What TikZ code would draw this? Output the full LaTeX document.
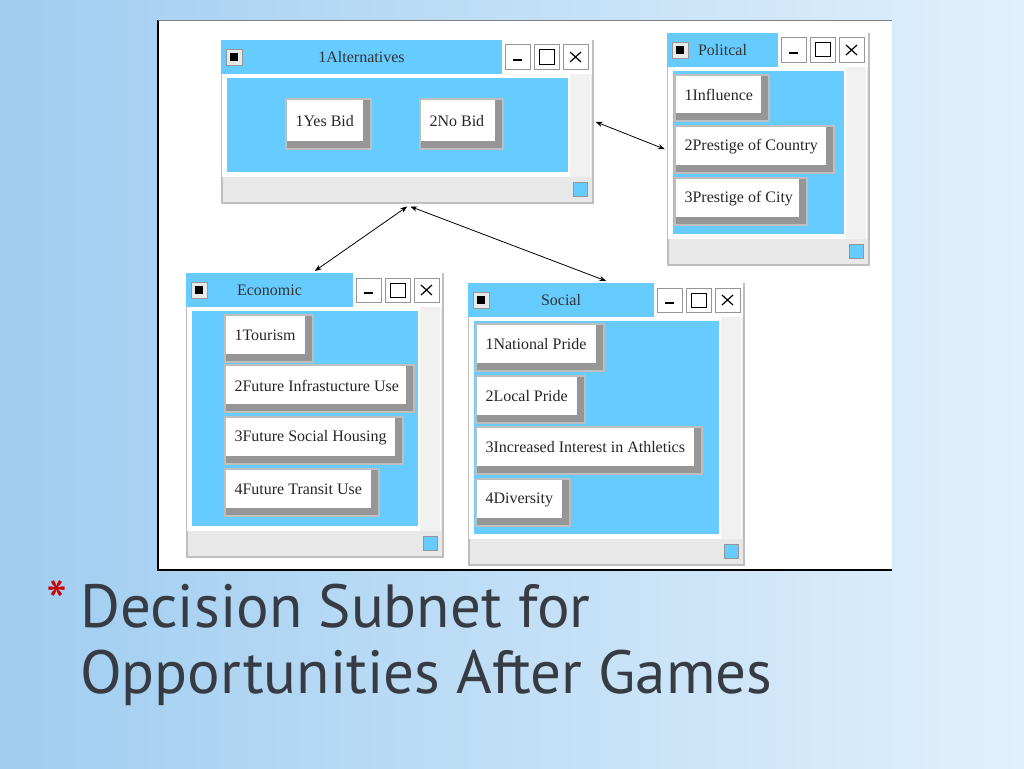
\documentclass[tikz,border=0pt]{standalone}
\usepackage{fontspec}
\setmainfont{Liberation Serif}
\newfontfamily\titlefont{PT Sans}
\usetikzlibrary{arrows.meta, positioning, calc}
\definecolor{winblue}{RGB}{102,204,255}
\definecolor{framegray}{RGB}{190,190,190}
\definecolor{stripgray}{RGB}{232,232,232}
\definecolor{shadegray}{RGB}{150,150,150}
\definecolor{bgtop}{RGB}{225,240,252}
\definecolor{bgside}{RGB}{160,205,240}
\definecolor{titlegray}{RGB}{55,60,68}
\tikzset{
	winframe/.style={draw=framegray,line width=1.5pt,fill=stripgray,rectangle,anchor=north west,inner sep=0pt},
	ctrlbtn/.style={draw=shadegray,fill=white,line width=1pt},
	itemtext/.style={anchor=west,font=\fontsize{16}{18}\selectfont,text=black!85},
	link/.style={{Stealth[length=7pt]}-{Stealth[length=7pt]},line width=0.8pt}
}
% one window: name, left, top, right, bottom, end of title bar, title
\newcommand{\appwin}[7]{
	\node[winframe,minimum width={#4-#2},minimum height={#5-#3}] (#1) at (#2,#3) {};
	\fill[winblue] (#2,#3) rectangle (#6,#3+34);
	\fill[white] (#6,#3) rectangle (#4,#3+34);
	\draw[fill=stripgray,draw=shadegray] (#2+5,#3+9) rectangle (#2+21,#3+25);
	\fill[black] (#2+9,#3+13) rectangle (#2+17,#3+21);
	\node[font=\fontsize{16}{18}\selectfont,text=black!80] at ({(#2+#6)/2},#3+17) {#7};
	\draw[ctrlbtn] (#6+3,#3+5) rectangle (#6+28,#3+29);
	\draw[line width=1.5pt] (#6+11,#3+20) -- (#6+20,#3+20);
	\draw[ctrlbtn] (#6+32,#3+5) rectangle (#6+57,#3+29);
	\draw[line width=1pt] (#6+37,#3+10) rectangle (#6+52,#3+24);
	\draw[ctrlbtn] (#6+61,#3+5) rectangle (#6+86,#3+29);
	\draw[line width=1.2pt] (#6+68,#3+12) -- (#6+79,#3+22) (#6+68,#3+22) -- (#6+79,#3+12);
	\fill[white] (#2+1,#3+34) rectangle (#4-1,#5-25);
	\fill[stripgray!60] (#4-22,#3+34) rectangle (#4-2,#5-25);
	\fill[winblue] (#2+6,#3+38) rectangle (#4-24,#5-30);
	\draw[fill=winblue,draw=shadegray] (#4-19,#5-20) rectangle (#4-5,#5-6);
}
% one item button: name, left, top, right, bottom, text
\newcommand{\itembox}[6]{
	\fill[framegray] (#2-2,#3-2) rectangle (#4+2,#5+2);
	\fill[shadegray] (#2,#3) rectangle (#4,#5);
	\fill[white] (#2,#3) rectangle (#4-7,#5-7);
	\node[itemtext] (#1) at (#2+5,{(#3+#5)/2-3}) {#6};
}
\begin{document}
\begin{tikzpicture}[x=1pt,y=-1pt]
	% slide background
	\shade[left color=bgside,right color=bgtop] (0,0) rectangle (1024,768);
	\useasboundingbox (0,0) rectangle (1024,768);
	% diagram area
	\fill[white] (158,20) rectangle (892,570);
	\draw[line width=1.5pt] (892,570) -- (158,570) -- (158,20);
	\draw[black!50,line width=0.5pt] (158,20) -- (892,20);
	% windows
	\appwin{alt}{221}{40}{592}{202}{502}{1Alternatives}
	\itembox{yes}{287}{100}{370}{148}{1Yes Bid}
	\itembox{no}{421}{100}{502}{148}{2No Bid}
	\appwin{pol}{667}{33}{868}{264}{778}{Politcal}
	\itembox{p1}{676}{76}{768}{120}{1Influence}
	\itembox{p2}{676}{127}{833}{172}{2Prestige of Country}
	\itembox{p3}{676}{179}{806}{224}{3Prestige of City}
	\appwin{eco}{186}{273}{442}{556}{353}{Economic}
	\itembox{e1}{226}{316}{312}{361}{1Tourism}
	\itembox{e2}{226}{366}{413}{411}{2Future Infrastucture Use}
	\itembox{e3}{226}{418}{402}{463}{3Future Social Housing}
	\itembox{e4}{226}{470}{378}{515}{4Future Transit Use}
	\appwin{soc}{468}{283}{743}{564}{654}{Social}
	\itembox{s1}{477}{325}{603}{370}{1National Pride}
	\itembox{s2}{477}{377}{584}{422}{2Local Pride}
	\itembox{s3}{477}{428}{701}{473}{3Increased Interest in Athletics}
	\itembox{s4}{477}{480}{569}{525}{4Diversity}
	% links
	\draw[link] ([xshift=2pt]alt.east) -- ([xshift=-2pt]pol.west);
	\draw[link] ([yshift=-3pt]alt.south) -- ([yshift=2pt]eco.north);
	\draw[link] ([xshift=3pt,yshift=-3pt]alt.south) -- ([yshift=2pt]soc.north);
	% slide title
	\node[anchor=north west,text=red!80!black,font=\titlefont\fontsize{60}{60}\selectfont,inner sep=0pt] (star) at (46,580) {*};
	\node[anchor=north west,align=left,text=titlegray,font=\titlefont\fontsize{61}{66}\selectfont,inner sep=0pt] (title) at (80,584) {Decision Subnet for\\Opportunities After Games};
\end{tikzpicture}
\end{document}
